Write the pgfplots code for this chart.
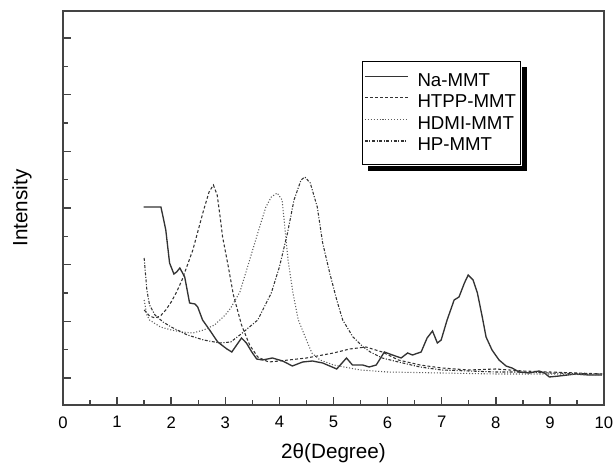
\documentclass[border=0pt]{standalone}
\usepackage{pgfplots}
\pgfplotsset{compat=1.18}
\usepackage{fontspec}
\setmainfont{Liberation Sans}

\definecolor{axgray}{HTML}{444444}
\definecolor{curve}{HTML}{333333}

\begin{document}
\begin{tikzpicture}
  % page = 615 x 463 px at 0.75 pt/px; axis box lower-left at (0,0)
  \path[use as bounding box] (-47.25pt,-43.5pt) rectangle (414pt,303.75pt);
  \begin{axis}[
      scale only axis,
      width=405.75pt, height=295.5pt,
      xmin=0, xmax=10, ymin=0, ymax=394,
      xtick={0,1,...,10},
      minor xtick={0.5,1.5,...,9.5},
      ytick={27,83.67,140.33,197,253.67,310.33,367},
      minor ytick={55.33,112,168.67,225.33,282,338.67},
      yticklabels={},
      xtick pos=bottom, ytick pos=left,
      tick align=inside,
      major tick length=6.25pt, minor tick length=3.5pt,
      axis line style={axgray, line width=1.2pt},
      every tick/.style={axgray, line width=1.1pt},
      /pgf/number format/assume math mode=true,
      ticklabel style={font=\fontsize{12.5}{15}\selectfont},
      xticklabel style={yshift=-5pt},
      xlabel={2θ(Degree)},
      ylabel={Intensity},
      label style={font=\fontsize{15.5}{18}\selectfont},
      xlabel style={at={(axis description cs:0.5,-0.1218)}, anchor=center},
      ylabel style={at={(axis description cs:-0.0758,0.5)}, anchor=center},
      legend image code/.code={%
        \draw[#1] (5.5pt,0.33em) -- (37.5pt,0.33em);
        \path (42.5pt,0pt);},
      legend cell align=left,
      legend style={
        name=leg,
        at={(0.552,0.873)}, anchor=north west,
        draw=black, line width=0.8pt, fill=white,
        font=\fontsize{14}{16.5}\selectfont,
        inner xsep=1.5pt, inner ysep=6.9pt,
        row sep=1pt
      },
    ]
    % Na-MMT
    \addplot[curve, line width=1pt] coordinates {
      (1.49,198) (1.81,198) (1.85,188) (1.90,175) (1.97,142) (2.05,131)
      (2.10,133) (2.16,137) (2.25,128) (2.34,102) (2.44,101) (2.49,98)
      (2.58,85) (2.71,75) (2.86,63) (3.03,56) (3.12,53) (3.21,60)
      (3.30,67) (3.39,62) (3.49,53) (3.58,46) (3.69,45) (3.87,47)
      (4.06,44) (4.24,39) (4.43,43) (4.61,44) (4.80,42) (5.06,36)
      (5.24,47) (5.35,40) (5.54,40) (5.66,38) (5.79,40) (5.94,53)
      (6.09,50) (6.25,47) (6.37,52) (6.46,50) (6.62,53) (6.73,67)
      (6.83,74) (6.92,62) (6.99,65) (7.10,85) (7.23,105) (7.32,108)
      (7.42,122) (7.49,130) (7.58,125) (7.66,112) (7.75,88) (7.82,68)
      (7.93,55) (8.06,45) (8.19,39) (8.30,37) (8.43,33) (8.62,32)
      (8.80,34) (8.90,32) (8.99,28) (9.17,29) (9.48,31) (9.72,30) (9.96,30)
    };
    \addlegendentry{Na-MMT}
    % HTPP-MMT
    \addplot[curve, line width=0.8pt, dash pattern=on 2.2pt off 1.6pt] coordinates {
      (1.5,95) (1.6,89) (1.7,87) (1.8,89) (1.9,95) (2.0,103) (2.1,113)
      (2.2,125) (2.3,140) (2.4,155) (2.5,175) (2.6,195) (2.7,213)
      (2.78,220) (2.85,210) (2.9,190) (2.95,168) (3.05,140) (3.15,110)
      (3.3,80) (3.45,60) (3.6,48) (3.8,43) (4.0,44) (4.5,47) (5.0,52)
      (5.3,56) (5.6,58) (5.9,53) (6.2,45) (6.6,40) (7.0,37) (7.5,35)
      (8.0,36) (8.5,34) (9.0,33) (9.5,32) (10,31)
    };
    \addlegendentry{HTPP-MMT}
    % HDMI-MMT
    \addplot[curve!80, line width=0.8pt, dash pattern=on 0.8pt off 1.4pt] coordinates {
      (1.5,105) (1.55,90) (1.6,85) (1.8,78) (2.0,75) (2.2,73) (2.4,72)
      (2.6,75) (2.8,80) (3.0,90) (3.1,97) (3.27,113) (3.45,145) (3.6,172)
      (3.75,198) (3.85,208) (3.96,212) (4.05,205) (4.1,178) (4.16,145)
      (4.25,112) (4.35,85) (4.5,65) (4.6,52) (4.75,45) (5.0,40) (5.5,35)
      (6.0,33) (7.0,32) (8.0,31) (9.0,31) (10,30)
    };
    \addlegendentry{HDMI-MMT}
    % HP-MMT
    \addplot[curve, line width=0.8pt, dash pattern=on 2.2pt off 1.2pt on 0.8pt off 1.2pt] coordinates {
      (1.5,147) (1.55,115) (1.6,100) (1.7,90) (1.85,83) (2.0,78) (2.3,70)
      (2.6,65) (2.9,62) (3.1,63) (3.27,70) (3.6,85) (3.85,112) (4.0,138)
      (4.15,172) (4.27,205) (4.4,225) (4.47,228) (4.57,222) (4.7,198)
      (4.8,162) (4.93,132) (5.06,105) (5.17,85) (5.36,68) (5.55,58)
      (5.68,53) (5.9,47) (6.2,43) (6.6,38) (7.0,35) (7.5,34) (8.0,33)
      (8.5,33) (9.0,32) (10,31)
    };
    \addlegendentry{HP-MMT}
  \end{axis}
  % solid black shadow of the legend box (right and bottom strips)
  \fill[black] ([xshift=0.4pt,yshift=-4.5pt]leg.north east)
    rectangle ([xshift=4.5pt,yshift=-4.5pt]leg.south east);
  \fill[black] ([xshift=4.5pt,yshift=-0.4pt]leg.south west)
    rectangle ([xshift=4.5pt,yshift=-4.5pt]leg.south east);
\end{tikzpicture}
\end{document}
